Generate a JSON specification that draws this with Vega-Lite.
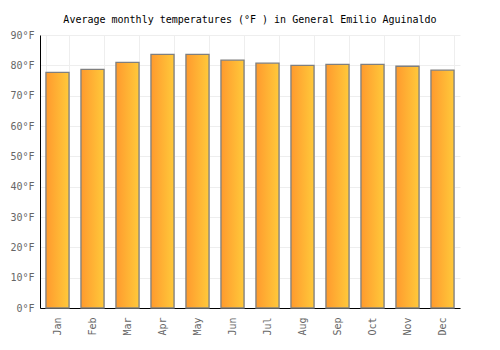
{
  "$schema": "https://vega.github.io/schema/vega-lite/v6.json",
  "autosize": "none",
  "width": 420,
  "height": 273,
  "padding": {"left": 40, "top": 35, "right": 40, "bottom": 42},
  "background": "white",
  "title": {
    "text": "Average monthly temperatures (°F ) in General Emilio Aguinaldo",
    "font": "DejaVu Sans Mono",
    "fontSize": 10,
    "fontWeight": "normal",
    "color": "#000000",
    "anchor": "middle",
    "offset": 5
  },
  "data": {
    "values": [
      {"month": "Jan", "temp": 77.7},
      {"month": "Feb", "temp": 78.7},
      {"month": "Mar", "temp": 81.0},
      {"month": "Apr", "temp": 83.6},
      {"month": "May", "temp": 83.6},
      {"month": "Jun", "temp": 81.7},
      {"month": "Jul", "temp": 80.7},
      {"month": "Aug", "temp": 80.0},
      {"month": "Sep", "temp": 80.3},
      {"month": "Oct", "temp": 80.3},
      {"month": "Nov", "temp": 79.7},
      {"month": "Dec", "temp": 78.4}
    ]
  },
  "mark": {
    "type": "bar",
    "stroke": "#7f7f7f",
    "strokeWidth": 1.3,
    "fill": {
      "gradient": "linear",
      "x1": 0, "x2": 1, "y1": 0, "y2": 0,
      "stops": [
        {"offset": 0, "color": "#FF9A2E"},
        {"offset": 1, "color": "#FFC93A"}
      ]
    }
  },
  "encoding": {
    "x": {
      "field": "month",
      "type": "nominal",
      "sort": null,
      "scale": {"paddingInner": 0.34, "paddingOuter": 0.17},
      "axis": {
        "title": null,
        "labelAngle": -90,
        "labelFont": "DejaVu Sans Mono",
        "labelFontSize": 10,
        "labelColor": "#666666",
        "labelPadding": 9,
        "ticks": false,
        "domainColor": "#000000",
        "grid": true,
        "gridColor": "#eeeeee",
        "tickBand": "extent"
      }
    },
    "y": {
      "field": "temp",
      "type": "quantitative",
      "scale": {"domain": [0, 90]},
      "axis": {
        "title": null,
        "values": [0, 10, 20, 30, 40, 50, 60, 70, 80, 90],
        "labelExpr": "datum.value + '°F'",
        "labelFont": "DejaVu Sans Mono",
        "labelFontSize": 10,
        "labelColor": "#666666",
        "labelPadding": 6,
        "ticks": false,
        "domainColor": "#000000",
        "grid": true,
        "gridColor": "#eeeeee"
      }
    }
  },
  "config": {
    "view": {"stroke": null}
  }
}
